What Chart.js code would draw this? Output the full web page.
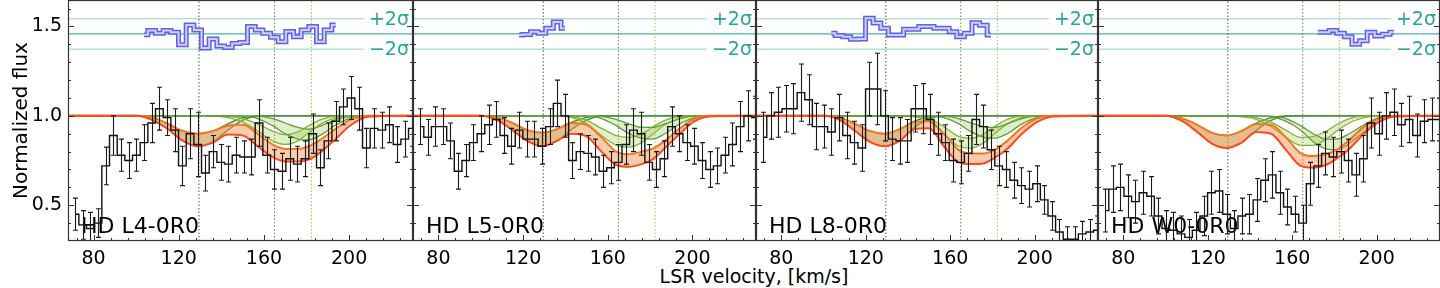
<!DOCTYPE html>
<html>
<head>
<meta charset="UTF-8" />
<title>Absorption components</title>
<script src="https://cdn.jsdelivr.net/npm/chart.js"></script>
<style>
  body { margin: 0; width: 1440px; height: 288px; overflow: hidden; position: relative; background: #fff; font-family: "DejaVu Sans", sans-serif; }
  canvas { position: absolute; top: 0; }
  #xtitle { position: absolute; left: 68px; width: 1372px; top: 265px; text-align: center; font-size: 19px; line-height: 22px; color: #000; }
</style>
</head>
<body>
<div id="xtitle">LSR velocity, [km/s]</div>
<script>
// sight lines
const panelNames = ['HD L4-0R0', 'HD L5-0R0', 'HD L8-0R0', 'HD W0-0R0'];

// bin centres, km/s
const vel = [71.3, 74.9, 78.5, 82.1, 85.7, 89.3, 92.9, 96.5, 100.1, 103.7, 107.3, 110.9, 114.5, 118.1, 121.7,
  125.3, 128.9, 132.5, 136.1, 139.7, 143.3, 146.9, 150.5, 154.1, 157.7, 161.3, 164.9, 168.5, 172.1, 175.7,
  179.3, 182.9, 186.5, 190.1, 193.7, 197.3, 200.9, 204.5, 208.1, 211.7, 215.3, 218.9, 222.5, 226.1, 229.7];

const flux1 = [0.45, 0.39, 0.37, 0.40, 0.72, 0.89, 0.78, 0.75, 0.78, 0.85, 0.96, 1.04, 0.99, 0.92, 0.72,
  0.90, 0.84, 0.68, 0.80, 0.74, 0.73, 0.78, 0.77, 0.77, 0.96, 0.78, 0.70, 0.69, 0.76, 0.73,
  0.76, 0.90, 0.71, 0.86, 0.97, 1.05, 1.10, 1.04, 0.82, 0.93, 0.92, 0.95, 0.84, 0.87, 0.93];
const err1 = [0.09, 0.08, 0.09, 0.08, 0.105, 0.11, 0.09, 0.1, 0.09, 0.1, 0.11, 0.12, 0.1, 0.12, 0.11,
  0.14, 0.18, 0.1, 0.09, 0.1, 0.1, 0.1, 0.09, 0.1, 0.13, 0.1, 0.11, 0.1, 0.12, 0.1,
  0.1, 0.11, 0.1, 0.1, 0.11, 0.1, 0.12, 0.12, 0.11, 0.11, 0.1, 0.1, 0.1, 0.1, 0.1];

const flux2 = [0.94, 0.88, 0.94, 0.94, 0.86, 0.69, 0.75, 0.85, 0.90, 0.95, 0.98, 0.89, 0.83, 0.92, 0.87,
  0.87, 0.83, 0.94, 1.07, 1.00, 0.75, 0.80, 0.79, 0.77, 0.69, 0.71, 0.74, 0.84, 0.92, 0.90,
  0.74, 0.70, 0.76, 0.94, 0.90, 0.85, 0.83, 0.75, 0.70, 0.72, 0.78, 0.84, 0.94, 1.00, 0.99];
const err2 = [0.1, 0.1, 0.11, 0.1, 0.1, 0.1, 0.09, 0.1, 0.1, 0.11, 0.1, 0.1, 0.1, 0.1, 0.1,
  0.1, 0.1, 0.1, 0.13, 0.12, 0.1, 0.1, 0.1, 0.1, 0.09, 0.09, 0.1, 0.11, 0.12, 0.12,
  0.1, 0.1, 0.1, 0.11, 0.1, 0.1, 0.1, 0.1, 0.1, 0.1, 0.1, 0.12, 0.14, 0.14, 0.12];

const flux3 = [0.88, 1.00, 1.02, 1.04, 1.04, 1.13, 1.09, 0.94, 0.94, 0.91, 0.99, 0.89, 0.85, 0.82, 1.15,
  1.15, 1.00, 0.87, 0.86, 0.86, 1.04, 1.04, 0.98, 0.90, 0.85, 0.75, 0.74, 0.79, 0.98, 0.94,
  0.81, 0.72, 0.70, 0.64, 0.61, 0.59, 0.62, 0.53, 0.44, 0.35, 0.31, 0.31, 0.34, 0.35, 0.36];
const err3 = [0.14, 0.13, 0.14, 0.13, 0.14, 0.16, 0.14, 0.13, 0.12, 0.13, 0.13, 0.13, 0.12, 0.13, 0.15,
  0.2, 0.14, 0.12, 0.13, 0.12, 0.13, 0.14, 0.14, 0.12, 0.1, 0.12, 0.12, 0.1, 0.14, 0.12,
  0.11, 0.11, 0.1, 0.1, 0.1, 0.1, 0.1, 0.08, 0.08, 0.07, 0.07, 0.07, 0.07, 0.07, 0.08];

const flux4 = [0.47, 0.59, 0.60, 0.55, 0.52, 0.57, 0.55, 0.44, 0.37, 0.36, 0.34, 0.32, 0.36, 0.44, 0.57,
  0.58, 0.45, 0.37, 0.44, 0.45, 0.53, 0.64, 0.67, 0.57, 0.49, 0.45, 0.40, 0.62, 0.72, 0.79,
  0.77, 0.80, 0.75, 0.67, 0.76, 0.96, 0.90, 1.00, 1.02, 0.95, 0.98, 0.89, 0.97, 0.98, 0.98];
const err4 = [0.12, 0.13, 0.13, 0.12, 0.12, 0.12, 0.11, 0.1, 0.1, 0.1, 0.1, 0.1, 0.1, 0.11, 0.12,
  0.12, 0.11, 0.1, 0.1, 0.11, 0.12, 0.12, 0.13, 0.12, 0.1, 0.1, 0.1, 0.12, 0.12, 0.12,
  0.11, 0.12, 0.12, 0.12, 0.13, 0.14, 0.12, 0.13, 0.13, 0.12, 0.13, 0.12, 0.12, 0.12, 0.12];

const fluxes = [flux1, flux2, flux3, flux4];
const errors = [err1, err2, err3, err4];

// residuals (shifted to 1.458), first bin index per panel
const resFrom = [9, 13, 9, 28];
const resid = [
  [1.453, 1.477, 1.462, 1.477, 1.468, 1.397, 1.508, 1.48, 1.379, 1.43, 1.391, 1.382, 1.405, 1.41, 1.5,
    1.48, 1.462, 1.44, 1.415, 1.472, 1.443, 1.48, 1.5, 1.415, 1.48, 1.508],
  [1.452, 1.455, 1.47, 1.462, 1.49, 1.525, 1.49],
  [1.462, 1.45, 1.443, 1.428, 1.43, 1.546, 1.52, 1.49, 1.452, 1.452, 1.484, 1.484, 1.5, 1.5, 1.49,
    1.49, 1.47, 1.443, 1.462, 1.521, 1.507, 1.452],
  [1.468, 1.468, 1.477, 1.462, 1.443, 1.40, 1.42, 1.468, 1.447, 1.457, 1.468]
];

// model grid and fitted profiles (upper / lower bounds)
const modelVel = [68, 100, 108, 115, 122, 129, 136, 143, 150, 157, 164, 170, 176, 181, 187, 194, 201, 209, 230];

const totHi = [
  [1, 1, 0.99, 0.955, 0.915, 0.9, 0.915, 0.945, 0.95, 0.9, 0.84, 0.815, 0.815, 0.83, 0.87, 0.93, 0.98, 1, 1],
  [1, 1, 0.99, 0.96, 0.92, 0.905, 0.925, 0.96, 0.95, 0.88, 0.8, 0.785, 0.8, 0.815, 0.86, 0.93, 0.985, 1, 1],
  [1, 1, 0.99, 0.955, 0.915, 0.9, 0.925, 0.965, 0.97, 0.9, 0.81, 0.79, 0.79, 0.81, 0.86, 0.935, 0.985, 1, 1],
  [1, 1, 0.985, 0.95, 0.905, 0.89, 0.915, 0.955, 0.95, 0.88, 0.79, 0.775, 0.785, 0.81, 0.865, 0.94, 0.985, 1, 1]
];
const totLo = [
  [1, 1, 0.975, 0.925, 0.86, 0.83, 0.85, 0.895, 0.89, 0.83, 0.77, 0.745, 0.745, 0.755, 0.8, 0.875, 0.95, 0.995, 1],
  [1, 1, 0.975, 0.92, 0.86, 0.83, 0.86, 0.9, 0.885, 0.8, 0.725, 0.715, 0.73, 0.755, 0.82, 0.9, 0.97, 0.998, 1],
  [1, 1, 0.975, 0.915, 0.855, 0.83, 0.86, 0.925, 0.93, 0.83, 0.74, 0.73, 0.735, 0.765, 0.815, 0.9, 0.965, 0.997, 1],
  [1, 1, 0.97, 0.91, 0.845, 0.82, 0.85, 0.91, 0.9, 0.81, 0.72, 0.71, 0.725, 0.76, 0.815, 0.9, 0.965, 0.997, 1]
];
const compAHi = [
  [1, 1, 0.99, 0.955, 0.915, 0.9, 0.915, 0.955, 0.99, 1, 1, 1, 1, 1, 1, 1, 1, 1, 1],
  [1, 1, 0.99, 0.96, 0.92, 0.905, 0.925, 0.965, 0.992, 1, 1, 1, 1, 1, 1, 1, 1, 1, 1],
  [1, 1, 0.99, 0.955, 0.915, 0.9, 0.925, 0.97, 0.995, 1, 1, 1, 1, 1, 1, 1, 1, 1, 1],
  [1, 1, 0.985, 0.95, 0.905, 0.89, 0.915, 0.96, 0.99, 1, 1, 1, 1, 1, 1, 1, 1, 1, 1]
];
const compALo = [
  [1, 1, 0.975, 0.925, 0.86, 0.83, 0.855, 0.92, 0.975, 0.998, 1, 1, 1, 1, 1, 1, 1, 1, 1],
  [1, 1, 0.975, 0.92, 0.86, 0.83, 0.86, 0.925, 0.975, 0.998, 1, 1, 1, 1, 1, 1, 1, 1, 1],
  [1, 1, 0.975, 0.915, 0.855, 0.83, 0.86, 0.935, 0.985, 1, 1, 1, 1, 1, 1, 1, 1, 1, 1],
  [1, 1, 0.97, 0.91, 0.845, 0.82, 0.85, 0.92, 0.975, 0.998, 1, 1, 1, 1, 1, 1, 1, 1, 1]
];
const compBHi = [
  [1, 1, 1, 1, 1, 1, 1, 0.998, 0.985, 0.955, 0.915, 0.895, 0.91, 0.945, 0.98, 0.998, 1, 1, 1],
  [1, 1, 1, 1, 1, 1, 1, 0.995, 0.975, 0.93, 0.89, 0.88, 0.9, 0.935, 0.975, 0.996, 1, 1, 1],
  [1, 1, 1, 1, 1, 1, 1, 0.998, 0.985, 0.94, 0.885, 0.875, 0.9, 0.94, 0.98, 0.998, 1, 1, 1],
  [1, 1, 1, 1, 1, 1, 0.998, 0.99, 0.965, 0.92, 0.88, 0.885, 0.915, 0.95, 0.985, 1, 1, 1, 1]
];
const compBLo = [
  [1, 1, 1, 1, 1, 1, 1, 0.99, 0.965, 0.915, 0.86, 0.84, 0.86, 0.905, 0.955, 0.99, 1, 1, 1],
  [1, 1, 1, 1, 1, 1, 1, 0.99, 0.955, 0.89, 0.835, 0.825, 0.85, 0.895, 0.95, 0.985, 1, 1, 1],
  [1, 1, 1, 1, 1, 1, 1, 0.995, 0.97, 0.9, 0.83, 0.82, 0.85, 0.9, 0.955, 0.99, 1, 1, 1],
  [1, 1, 1, 1, 1, 1, 0.995, 0.98, 0.94, 0.88, 0.835, 0.835, 0.87, 0.915, 0.96, 0.99, 1, 1, 1]
];
const compCHi = [
  [1, 1, 1, 1, 1, 1, 1, 1, 1, 0.998, 0.985, 0.96, 0.935, 0.925, 0.945, 0.98, 0.997, 1, 1],
  [1, 1, 1, 1, 1, 1, 1, 1, 1, 0.997, 0.98, 0.955, 0.935, 0.935, 0.955, 0.985, 1, 1, 1],
  [1, 1, 1, 1, 1, 1, 1, 1, 1, 0.998, 0.985, 0.96, 0.94, 0.935, 0.955, 0.985, 1, 1, 1],
  [1, 1, 1, 1, 1, 1, 1, 1, 0.998, 0.985, 0.945, 0.9, 0.87, 0.87, 0.9, 0.95, 0.99, 1, 1]
];
const compCLo = [
  [1, 1, 1, 1, 1, 1, 1, 1, 0.998, 0.985, 0.945, 0.9, 0.87, 0.865, 0.895, 0.95, 0.99, 1, 1],
  [1, 1, 1, 1, 1, 1, 1, 1, 0.998, 0.985, 0.945, 0.9, 0.875, 0.87, 0.9, 0.955, 0.99, 1, 1],
  [1, 1, 1, 1, 1, 1, 1, 1, 0.998, 0.99, 0.955, 0.91, 0.88, 0.875, 0.9, 0.955, 0.99, 1, 1],
  [1, 1, 1, 1, 1, 1, 1, 1, 0.995, 0.97, 0.92, 0.855, 0.815, 0.81, 0.845, 0.91, 0.97, 0.998, 1]
];

// reference velocities and residual sigma levels
const markerVel = [129.5, 165, 182.3];
const sigmaLevels = [1.543, 1.458, 1.373];
const sigmaLabels = ['+2σ', '', '−2σ'];

// layout
const panelLeft = [68, 413, 756, 1098];
const panelRight = [413, 756, 1098, 1440];
const xMin = 68, xMax = 230, yMin = 0.3, yMax = 1.648;

const markerColors = ['#3c5a5a', '#7d7d2e', '#b4b43c'];
const teal = '#26a69a';

Chart.defaults.font.family = '"DejaVu Sans", sans-serif';
Chart.defaults.color = '#000';

function pts(xs, ys) {
  return ys.map((y, j) => ({ x: xs[j], y: y }));
}

function buildPanel(i) {
  const left = i === 0 ? 0 : panelLeft[i];
  const cv = document.createElement('canvas');
  cv.width = panelRight[i] - left;
  cv.height = 288;
  cv.style.left = left + 'px';
  document.body.appendChild(cv);

  const ds = [];
  sigmaLevels.forEach((lv, j) => ds.push({
    data: [{ x: xMin, y: lv }, { x: xMax, y: lv }],
    borderColor: j === 1 ? 'rgba(38,166,154,0.85)' : 'rgba(38,166,154,0.5)',
    borderWidth: j === 1 ? 1.3 : 1, order: 90
  }));
  markerVel.forEach((v, j) => ds.push({
    data: [{ x: v, y: yMin }, { x: v, y: yMax }],
    borderColor: markerColors[j], borderWidth: 1, borderDash: [1.5, 2], order: 80
  }));

  const comps = [
    [compALo, compAHi, '#3f8a35', 'rgba(120,170,70,0.30)'],
    [compBLo, compBHi, '#86b040', 'rgba(175,210,95,0.35)'],
    [compCLo, compCHi, '#5e9c3c', 'rgba(150,195,80,0.30)']
  ];
  comps.forEach(([lo, hi, col, fillCol], j) => {
    ds.push({ data: pts(modelVel, lo[i]), borderColor: col, borderWidth: 1.3,
      cubicInterpolationMode: 'monotone', order: 70 - j });
    ds.push({ data: pts(modelVel, hi[i]), borderColor: col, borderWidth: 1.3,
      cubicInterpolationMode: 'monotone', fill: '-1', backgroundColor: fillCol, order: 70 - j });
  });

  ds.push({ data: pts(modelVel, totLo[i]), borderColor: '#ff4a1c', borderWidth: 2,
    cubicInterpolationMode: 'monotone', order: 40 });
  ds.push({ data: pts(modelVel, totHi[i]), borderColor: '#ee7a22', borderWidth: 2,
    cubicInterpolationMode: 'monotone', fill: '-1', backgroundColor: 'rgba(245,140,70,0.45)', order: 40 });

  ds.push({ data: pts(vel, fluxes[i]), borderColor: '#111', borderWidth: 1.4, stepped: 'middle', order: 20 });

  const rx = vel.slice(resFrom[i], resFrom[i] + resid[i].length);
  ds.push({ data: pts(rx, resid[i]), borderColor: '#5f5fee', borderWidth: 5, stepped: 'middle', order: 11 });
  ds.push({ data: pts(rx, resid[i]), borderColor: '#cfd0ff', borderWidth: 2, stepped: 'middle', order: 10 });

  const decor = {
    id: 'decor' + i,
    beforeDatasetsDraw(chart) {
      const { ctx, chartArea: a } = chart;
      ctx.save();
      ctx.font = '22px "DejaVu Sans"';
      ctx.fillStyle = '#000';
      ctx.textAlign = 'left';
      ctx.textBaseline = 'alphabetic';
      ctx.fillText(panelNames[i], a.left + 13, a.bottom - 8);
      ctx.restore();
    },
    afterDatasetsDraw(chart) {
      const { ctx, chartArea: a, scales: { x, y } } = chart;
      const f = fluxes[i], e = errors[i];
      ctx.save();
      ctx.beginPath();
      ctx.rect(a.left, a.top, a.right - a.left, a.bottom - a.top);
      ctx.clip();
      // error bars
      ctx.strokeStyle = '#1a1a1a';
      ctx.lineWidth = 1.1;
      ctx.beginPath();
      vel.forEach((v, k) => {
        const px = Math.round(x.getPixelForValue(v)) + 0.5;
        const y1 = y.getPixelForValue(f[k] - e[k]);
        const y2 = y.getPixelForValue(f[k] + e[k]);
        ctx.moveTo(px, y1); ctx.lineTo(px, y2);
        ctx.moveTo(px - 2.5, y1); ctx.lineTo(px + 2.5, y1);
        ctx.moveTo(px - 2.5, y2); ctx.lineTo(px + 2.5, y2);
      });
      ctx.stroke();
      // sigma labels
      ctx.font = '19px "DejaVu Sans"';
      ctx.textAlign = 'right';
      ctx.textBaseline = 'middle';
      sigmaLabels.forEach((t, j) => {
        if (!t) return;
        const py = y.getPixelForValue(sigmaLevels[j]);
        const w = ctx.measureText(t).width;
        ctx.fillStyle = '#fff';
        ctx.fillRect(a.right - w - 9, py - 7, w + 8, 14);
        ctx.fillStyle = teal;
        ctx.fillText(t, a.right - 4, py + 1);
      });
      ctx.restore();

      // ticks (inward) and frame
      ctx.save();
      ctx.strokeStyle = '#333';
      ctx.lineWidth = 1;
      ctx.beginPath();
      for (let v = 72; v < xMax; v += 8) {
        const px = Math.round(x.getPixelForValue(v)) + 0.5;
        const len = v % 40 === 0 ? 6 : 3;
        ctx.moveTo(px, a.bottom); ctx.lineTo(px, a.bottom - len);
      }
      for (let k = 4; k <= 16; k++) {
        const py = Math.round(y.getPixelForValue(k / 10)) + 0.5;
        const len = k % 5 === 0 ? 6 : 3;
        ctx.moveTo(a.left, py); ctx.lineTo(a.left + len, py);
        ctx.moveTo(a.right, py); ctx.lineTo(a.right - len, py);
      }
      ctx.stroke();
      ctx.lineWidth = 1.2;
      ctx.strokeRect(a.left + 0.5, a.top + 0.5, a.right - a.left - 1, a.bottom - a.top - 1);
      ctx.restore();
    }
  };

  new Chart(cv, {
    type: 'line',
    data: { datasets: ds },
    options: {
      responsive: false,
      animation: false,
      devicePixelRatio: 1,
      events: [],
      layout: { padding: 0 },
      elements: { point: { radius: 0 }, line: { tension: 0, borderCapStyle: 'butt', borderJoinStyle: 'miter' } },
      plugins: { legend: { display: false }, tooltip: { enabled: false } },
      scales: {
        x: {
          type: 'linear', min: xMin, max: xMax,
          grid: { display: false, drawTicks: false },
          border: { display: false },
          ticks: { stepSize: 40, includeBounds: false, padding: 7, font: { size: 19 }, maxRotation: 0, autoSkip: false },
          afterFit(s) { s.height = 47; s.paddingLeft = 0; s.paddingRight = 0; }
        },
        y: {
          display: i === 0,
          min: yMin, max: yMax,
          grid: { display: false, drawTicks: false },
          border: { display: false },
          ticks: { stepSize: 0.5, includeBounds: false, padding: 6, font: { size: 19 },
            callback: v => v.toFixed(1) },
          title: { display: true, text: 'Normalized flux', font: { size: 20 }, padding: { top: 10, bottom: 0 } },
          afterFit(s) { s.width = i === 0 ? 68 : 0; s.paddingTop = 0; s.paddingBottom = 0; }
        }
      }
    },
    plugins: [decor]
  });
}

for (let i = 0; i < 4; i++) buildPanel(i);
</script>
</body>
</html>
